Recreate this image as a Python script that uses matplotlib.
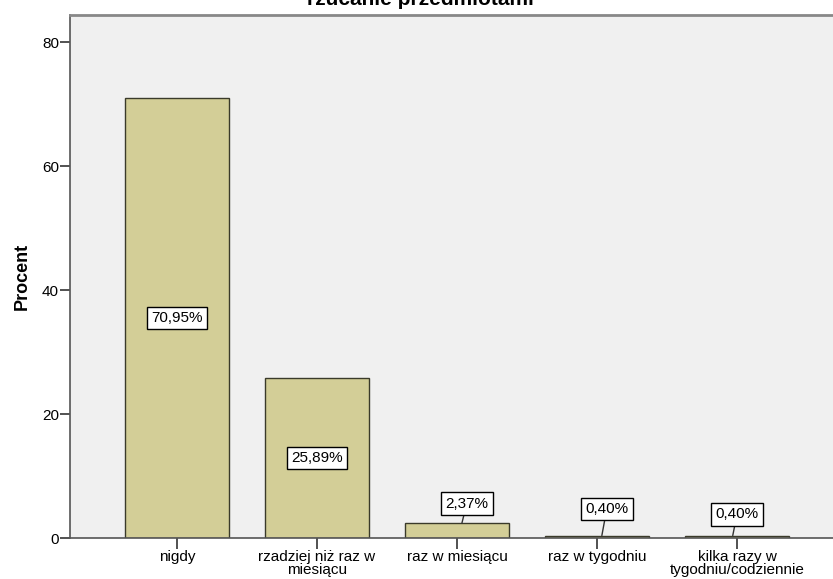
import matplotlib
matplotlib.use("Agg")
import matplotlib.pyplot as plt

categories = ["nigdy", "rzadziej niż raz w\nmiesiącu", "raz w miesiącu", "raz w tygodniu", "kilka razy w\ntygodniu/codziennie"]
values = [70.95, 25.89, 2.37, 0.40, 0.40]
labels = ["70,95%", "25,89%", "2,37%", "0,40%", "0,40%"]
yticks = [0, 20, 40, 60, 80]
title = "rzucanie przedmiotami"

plt.rcParams['font.family'] = ['Liberation Sans', 'DejaVu Sans']

fig = plt.figure(figsize=(8.33, 5.79), dpi=100)
ax = fig.add_axes([70/833, 41/579, 1 - 70/833 + 0.01, (538-15)/579])
ax.set_facecolor('#F0F0F0')
x = list(range(len(categories)))
ax.bar(x, values, width=0.743, color='#D3CE97', edgecolor='#3A3A2A', linewidth=1.0, zorder=2)
ax.set_xlim(-0.764, 4.686 + 0.01*833/140)
ax.set_ylim(0, 84.4)
ax.set_yticks(yticks)
ax.set_xticks(x)
ax.set_xticklabels(categories, fontsize=11, linespacing=0.9)
ax.tick_params(axis='y', labelsize=11, length=7, width=1.2, color='#333333', pad=1)
ax.tick_params(axis='x', length=8, width=1.2, color='#333333', pad=1)
for s in ['left', 'bottom', 'top', 'right']:
    ax.spines[s].set_color('#555555')
    ax.spines[s].set_linewidth(1.2)
ax.spines['top'].set_color('#888888')
ax.spines['top'].set_linewidth(2)
ax.set_ylabel("Procent", fontsize=13, fontweight='bold', labelpad=8)

box = dict(boxstyle='square,pad=0.28', fc='white', ec='black', lw=1.0)
offsets = [None, None, (0.07, 5.56), (0.07, 4.68), (0.0, 3.8)]
for i, (v, lab) in enumerate(zip(values, labels)):
    if offsets[i] is None:
        ax.text(i, v/2, lab, ha='center', va='center', fontsize=11, bbox=box, zorder=3)
    else:
        dx, ty = offsets[i]
        ax.annotate(lab, xy=(i + 0.035 if i < 4 else i - 0.03, v), xytext=(i + dx, ty),
                    ha='center', va='center', fontsize=11, bbox=box, zorder=3,
                    arrowprops=dict(arrowstyle='-', color='#333333', lw=1.0, shrinkA=0, shrinkB=0))

fig.text(420/833, 1 - 5/579, title, ha='center', va='baseline', fontsize=15, fontweight='bold')
fig.savefig("out.png", dpi=100)
